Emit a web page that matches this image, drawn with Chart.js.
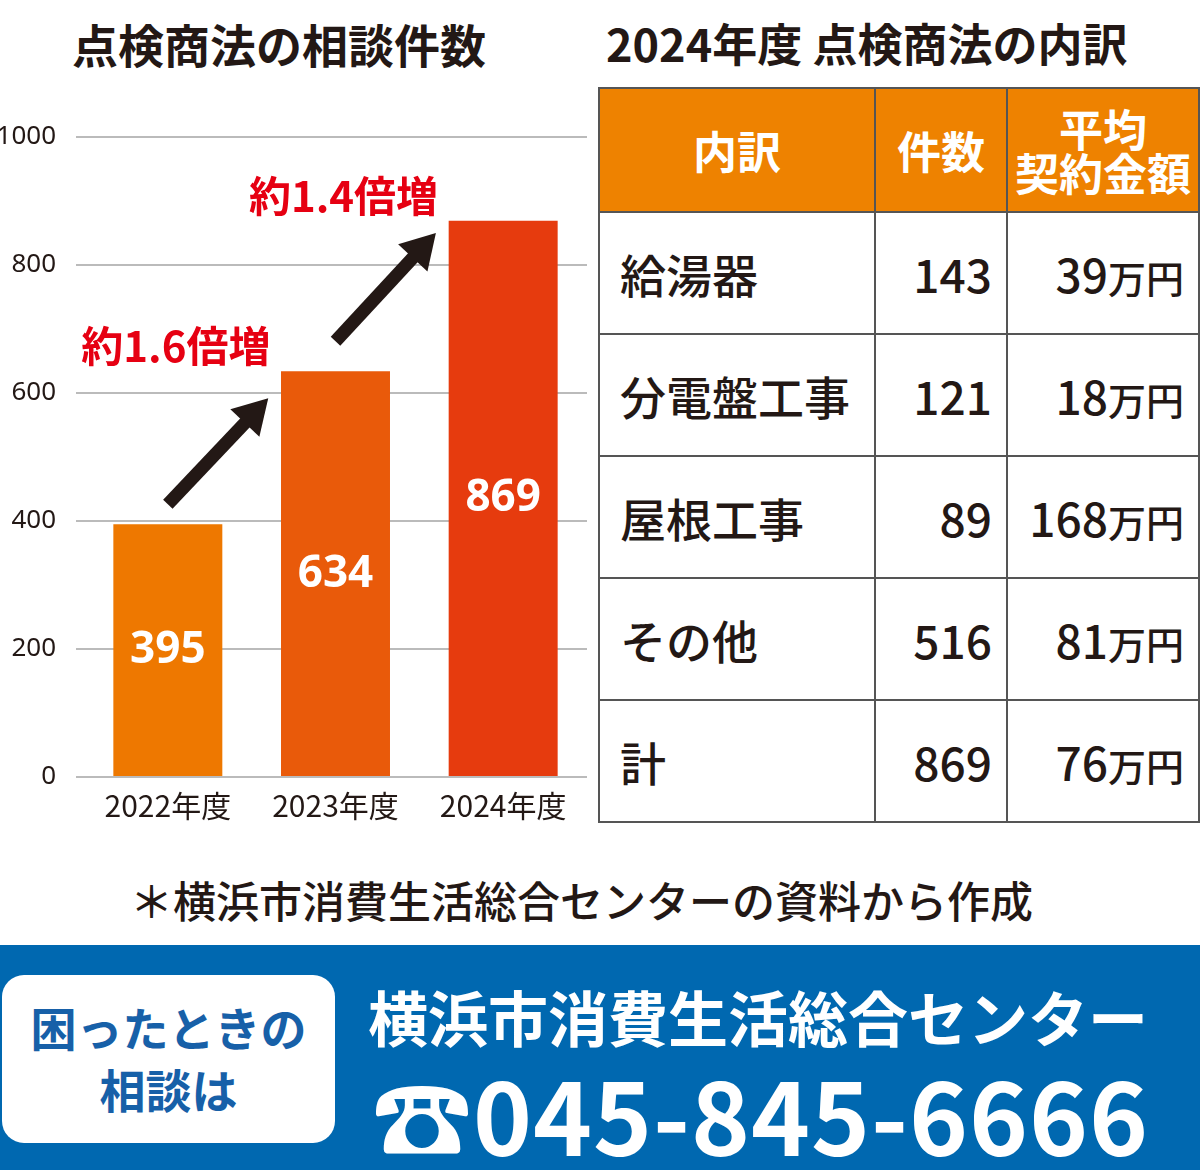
<!DOCTYPE html>
<html><head><meta charset="utf-8">
<script src="https://cdn.jsdelivr.net/npm/chart.js@4.4.0/dist/chart.umd.min.js"></script>
<style>
body{margin:0;width:1200px;height:1170px;background:#fff;font-family:"Noto Sans CJK JP","Noto Sans",sans-serif;position:relative;overflow:hidden;color:#231815}
.t{position:absolute;font-weight:700;font-size:46px;white-space:nowrap}
#cw{position:absolute;left:0;top:100px;width:595px;height:740px}
table{position:absolute;left:598px;top:87px;border-collapse:collapse;width:602px;table-layout:fixed}
td{border:2px solid #555;height:120px;font-size:46px;padding:0 14px 0 20px;font-weight:500;white-space:nowrap}
th{background:#ee8200;color:#fff;border:2px solid #555;height:120px;font-size:44px;font-weight:700;line-height:1.0}
.n{text-align:right;padding:0 14px 0 4px}
.y{font-size:38px}
#band{position:absolute;left:0;top:945px;width:1200px;height:225px;background:#0068b0}
#box{position:absolute;left:2px;top:975px;width:333px;height:168px;background:#fff;border-radius:22px;color:#1760a8;font-weight:700;font-size:46px;text-align:center;line-height:62px;padding-top:20px;box-sizing:border-box;white-space:nowrap}
</style></head><body>
<div class="t" style="left:72px;top:10px">点検商法の相談件数</div>
<div class="t" style="left:606px;top:10px;font-size:45px">2024年度 点検商法の内訳</div>
<div id="cw"><canvas id="c"></canvas></div>
<table>
<tr><th style="width:272px">内訳</th><th style="width:128px">件数</th><th>平均<br>契約金額</th></tr>
<tr><td>給湯器</td><td class="n">143</td><td class="n">39<span class="y">万円</span></td></tr>
<tr><td>分電盤工事</td><td class="n">121</td><td class="n">18<span class="y">万円</span></td></tr>
<tr><td>屋根工事</td><td class="n">89</td><td class="n">168<span class="y">万円</span></td></tr>
<tr><td>その他</td><td class="n">516</td><td class="n">81<span class="y">万円</span></td></tr>
<tr><td>計</td><td class="n">869</td><td class="n">76<span class="y">万円</span></td></tr>
</table>
<div class="t" style="left:130px;top:868px;font-size:43px;font-weight:500">＊横浜市消費生活総合センターの資料から作成</div>
<div id="band"></div>
<div id="box">困ったときの<br>相談は</div>
<div class="t" style="left:368px;top:972px;color:#fff;font-size:60px">横浜市消費生活総合センター</div>
<div class="t" style="left:372px;top:1040px;color:#fff;font-size:100px;letter-spacing:1px">☎045-845-6666</div>
<script>
const years = ['2022年度', '2023年度', '2024年度'];
const counts = [395, 634, 869];
const barColors = ['#ee7800', '#e95a0a', '#e63b0e'];
const growthLabels = ['約1.6倍増', '約1.4倍増'];
const yTicks = [0, 200, 400, 600, 800, 1000];

// arrows + growth labels between bars
const arrows = {
  id: 'arrows',
  afterDatasetsDraw(chart) {
    const ctx = chart.ctx, y = chart.scales.y;
    const bars = chart.getDatasetMeta(0).data;
    const ends = [[-20, 30], [-30, 15]];
    for (let i = 0; i < bars.length - 1; i++) {
      const a = bars[i], b = bars[i + 1];
      const x1 = a.x, y1 = y.getPixelForValue(counts[i]) + ends[i][0];
      const x2 = b.x - 70, y2 = y.getPixelForValue(counts[i + 1]) + ends[i][1];
      const ang = Math.atan2(y2 - y1, x2 - x1);
      ctx.save();
      ctx.strokeStyle = ctx.fillStyle = '#231815';
      ctx.lineWidth = 13;
      ctx.beginPath(); ctx.moveTo(x1, y1);
      ctx.lineTo(x2 - 20 * Math.cos(ang), y2 - 20 * Math.sin(ang)); ctx.stroke();
      ctx.translate(x2, y2); ctx.rotate(ang);
      ctx.beginPath(); ctx.moveTo(4, 0); ctx.lineTo(-30, -20); ctx.lineTo(-30, 20); ctx.fill();
      ctx.restore();
      ctx.save();
      ctx.fillStyle = '#e60012';
      ctx.font = 'bold 42px "Noto Sans CJK JP"';
      ctx.textAlign = 'center'; ctx.textBaseline = 'middle';
      ctx.fillText(growthLabels[i], a.x + 8, y.getPixelForValue(counts[i + 1]) - 25);
      ctx.restore();
    }
    ctx.save();
    ctx.fillStyle = '#fff'; ctx.font = 'bold 44px "Noto Sans"';
    ctx.textAlign = 'center'; ctx.textBaseline = 'middle';
    bars.forEach((bar, i) => ctx.fillText(counts[i], bar.x, y.getPixelForValue(counts[i] / 2)));
    ctx.restore();
  }
};

new Chart(document.getElementById('c'), {
  type: 'bar',
  data: { labels: years, datasets: [{ data: counts, backgroundColor: barColors, barPercentage: 0.65, categoryPercentage: 1 }] },
  options: {
    responsive: true, maintainAspectRatio: false, animation: false,
    layout: { padding: { top: 37, right: 8, bottom: 13 } },
    plugins: { legend: { display: false }, tooltip: { enabled: false } },
    scales: {
      x: { grid: { display: false }, border: { display: false },
           ticks: { color: '#231815', font: { size: 30, family: 'Noto Sans CJK JP' } } },
      y: { min: 0, max: 1000, afterBuildTicks: s => { s.ticks = yTicks.map(v => ({ value: v })); },
           afterFit: s => { s.width = 84; },
           border: { display: false }, grid: { color: '#bbb', lineWidth: 2 },
           ticks: { color: '#231815', padding: 20, callback: v => String(v), font: { size: 26, family: 'Noto Sans' } } }
    }
  },
  plugins: [arrows]
});
</script>
</body></html>
